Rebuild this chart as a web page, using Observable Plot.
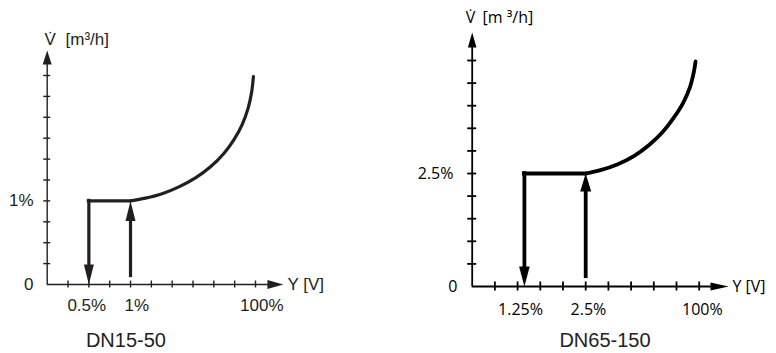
<!DOCTYPE html>
<html><head><meta charset="utf-8">
<script src="https://cdn.jsdelivr.net/npm/d3@7"></script>
<script src="https://cdn.jsdelivr.net/npm/@observablehq/plot@0.6"></script>
<style>
html,body{margin:0;padding:0;background:#fff;}
#wrap{position:relative;width:776px;height:353px;overflow:hidden;}
#left,#right{position:absolute;top:0;}
#left{left:0;}
#right{left:400px;}
svg{overflow:visible;}
</style></head><body>
<div id="wrap"><div id="left"></div><div id="right"></div></div>
<script>
// ---------- Data: left chart (DN15-50) ----------
const leftTicks = [1, 2, 3, 4, 5, 6, 7, 8, 9, 10];
const leftXLabels = ["0.5%", "1%", "100%"];
const leftXLabelAt = [1.9, 4.3, 10.3];
const leftYLabels = ["1%"];
const leftYLabelAt = [4];
const leftDownX = 2;
const leftUpX = 4;
const leftPlateau = 4;
const leftUpStart = 0.33;
const leftCurveX = [4, 4.72, 5.52, 6.32, 7.12, 7.84, 8.48, 8.96, 9.36, 9.65, 9.81, 9.9];
const leftCurveY = [4, 4.13, 4.34, 4.67, 5.1, 5.63, 6.27, 6.92, 7.65, 8.45, 9.18, 9.95];
const leftTipX = 11.34;
const leftTipY = 11.2;
const leftCaption = "DN15-50";
const leftCaptionAt = 3.78;

// ---------- Data: right chart (DN65-150) ----------
const rightTicks = [1, 2, 3, 4, 5, 6, 7, 8, 9, 10];
const rightXLabels = ["1.25%", "2.5%", "100%"];
const rightXLabelAt = [2.13, 5.12, 10.14];
const rightYLabels = ["2.5%"];
const rightYLabelAt = [5];
const rightDownX = 2.3;
const rightUpX = 5;
const rightPlateau = 5;
const rightUpStart = 0.35;
const rightCurveX = [5, 5.65, 6.39, 7.12, 7.78, 8.37, 8.88, 9.3, 9.59, 9.76, 9.84];
const rightCurveY = [5, 5.15, 5.4, 5.77, 6.25, 6.81, 7.47, 8.14, 8.81, 9.47, 9.96];
const rightTipX = 11.29;
const rightTipY = 11.24;
const rightCaption = "DN65-150";
const rightCaptionAt = 5.85;

const originLabel = "0";
const xTitle = "Y [V]";
const yTitleV = "V\u0307";
const leftUnit = "[m\u00B3/h]";
const rightUnit = "[m \u00B3/h]";

function chart(c) {
  const pts = c.curveX.map((x, i) => ({x, y: c.curveY[i]}));
  const axisHeads = [{x: 0, y: c.tipY, rot: 0, len: c.yHead[0], r: c.yHead[1]},
                     {x: c.tipX, y: 0, rot: 90, len: c.xHead[0], r: c.xHead[1]}];
  const flowHeads = [{x: c.downX, y: 0, rot: 180, len: c.downHead[0], r: c.downHead[1]},
                     {x: c.upX, y: c.plateau, rot: 0, len: c.upHead[0], r: c.upHead[1]}];
  const col = c.color;
  return Plot.plot({
    width: c.width, height: 353,
    marginLeft: c.ml, marginRight: c.mr, marginTop: c.mt, marginBottom: c.mb,
    x: {domain: [0, 10], axis: null},
    y: {domain: [0, 10], axis: null},
    style: {fontFamily: c.font, color: col, background: "transparent", overflow: "visible"},
    marks: [
      // axes
      Plot.ruleX([0], {x: d => d, y1: c.tipY, y2: 0, insetTop: 8, stroke: col, strokeWidth: c.axisW}),
      Plot.ruleY([0], {y: d => d, x1: 0, x2: c.tipX, insetRight: 8, stroke: col, strokeWidth: c.axisW}),
      Plot.ruleX(c.ticks, {x: d => d, y1: 0, y2: 0, insetTop: -c.tick, insetBottom: -c.tick, stroke: col, strokeWidth: c.axisW}),
      Plot.ruleY(c.ticks, {y: d => d, x1: 0, x2: 0, insetLeft: -c.tick, insetRight: -c.tick, stroke: col, strokeWidth: c.axisW}),
      ...axisHeads.map(h => Plot.vector([h], {x: "x", y: "y", rotate: "rot", length: h.len, r: h.r, shape: "spike", anchor: "end", fill: col, stroke: "none"})),
      // characteristic
      Plot.ruleX([c.downX], {x: d => d, y1: c.plateau, y2: 0, insetBottom: c.downHead[0] / 2, stroke: col, strokeWidth: c.lineW, strokeLinecap: "square"}),
      Plot.ruleY([c.plateau], {y: d => d, x1: c.downX, x2: c.upX, stroke: col, strokeWidth: c.lineW, strokeLinecap: "square"}),
      Plot.ruleX([c.upX], {x: d => d, y1: c.plateau, y2: c.upStart, insetTop: c.upHead[0] / 2, stroke: col, strokeWidth: c.lineW}),
      Plot.line(pts, {x: "x", y: "y", curve: "catmull-rom", stroke: col, strokeWidth: c.lineW}),
      ...flowHeads.map(h => Plot.vector([h], {x: "x", y: "y", rotate: "rot", length: h.len, r: h.r, shape: "spike", anchor: "end", fill: col, stroke: "none"})),
      // labels
      Plot.text(c.xLabels, {x: (d, i) => c.xLabelAt[i], y: () => 0, text: d => d, dy: c.xLabelDy, lineAnchor: "middle", textAnchor: "middle", fontSize: c.fs, fill: col}),
      Plot.text(c.yLabels, {x: () => 0, y: (d, i) => c.yLabelAt[i], text: d => d, dx: c.yLabelDx, lineAnchor: "middle", textAnchor: "end", fontSize: c.fs, fill: col}),
      Plot.text([originLabel], {x: () => 0, y: () => 0, text: d => d, dx: c.originDx, lineAnchor: "middle", textAnchor: "end", fontSize: c.fs, fill: col}),
      Plot.text([xTitle], {x: () => c.tipX, y: () => 0, text: d => d, dx: 4, lineAnchor: "middle", textAnchor: "start", fontSize: c.fs, fill: col}),
      Plot.text([yTitleV], {x: () => 0, y: () => c.tipY, text: d => d, dx: c.vDx, dy: c.titleDy, lineAnchor: "bottom", textAnchor: "middle", fontSize: c.fs, fill: col}),
      Plot.text([c.unit], {x: () => 0, y: () => c.tipY, text: d => d, dx: c.unitDx, dy: c.titleDy, lineAnchor: "bottom", textAnchor: "start", fontSize: c.fs, fill: col}),
      Plot.text([c.caption], {x: () => c.captionAt, y: () => 0, text: d => d, dy: c.captionDy, lineAnchor: "middle", textAnchor: "middle", fontSize: 20, fontFamily: "Liberation Sans, Arial, sans-serif", fill: c.captionColor})
    ]
  });
}

document.getElementById("left").append(chart({
  width: 390, ml: 46.7, mr: 390 - 255, mt: 75, mb: 353 - 284,
  color: "#231f20", captionColor: "#231f20", font: "Liberation Sans, Arial, sans-serif", fs: 17,
  ticks: leftTicks, xLabels: leftXLabels, xLabelAt: leftXLabelAt, yLabels: leftYLabels, yLabelAt: leftYLabelAt,
  downX: leftDownX, upX: leftUpX, plateau: leftPlateau, upStart: leftUpStart,
  curveX: leftCurveX, curveY: leftCurveY, tipX: leftTipX, tipY: leftTipY,
  caption: leftCaption, captionAt: leftCaptionAt, unit: leftUnit,
  axisW: 1.4, lineW: 3.2, tick: 3.5,
  yHead: [14, 4.5], xHead: [16, 4.5], downHead: [20, 5], upHead: [20, 5],
  xLabelDy: 21, yLabelDx: -13.7, originDx: -13.7, titleDy: -5, vDx: 3, unitDx: 18.3, captionDy: 56
}));

document.getElementById("right").append(chart({
  width: 376, ml: 71.7, mr: 376 - 298.7, mt: 60, mb: 353 - 286,
  color: "#000", captionColor: "#222", font: "Open Sans, sans-serif", fs: 16,
  ticks: rightTicks, xLabels: rightXLabels, xLabelAt: rightXLabelAt, yLabels: rightYLabels, yLabelAt: rightYLabelAt,
  downX: rightDownX, upX: rightUpX, plateau: rightPlateau, upStart: rightUpStart,
  curveX: rightCurveX, curveY: rightCurveY, tipX: rightTipX, tipY: rightTipY,
  caption: rightCaption, captionAt: rightCaptionAt, unit: rightUnit,
  axisW: 1.8, lineW: 3.8, tick: 4.5,
  yHead: [15, 4.3], xHead: [18, 4], downHead: [20, 5.3], upHead: [18, 5.5],
  xLabelDy: 23, yLabelDx: -18.7, originDx: -14.7, titleDy: -9, vDx: -1.7, unitDx: 10.3, captionDy: 54
}));
</script>
</body></html>
